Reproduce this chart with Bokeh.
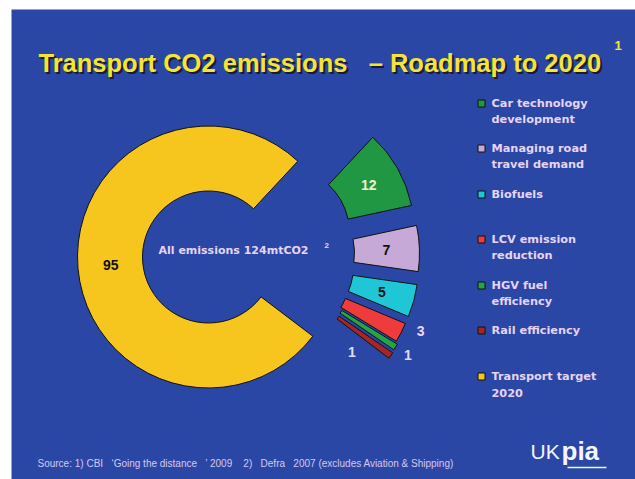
import math
from bokeh.plotting import figure
from bokeh.models import Range1d
from bokeh.embed import file_html
from bokeh.resources import INLINE
from bokeh.core.properties import value

# ---------------- data ----------------
categories = ["Car technology development", "Managing road travel demand", "Biofuels",
              "LCV emission reduction", "HGV fuel efficiency", "Rail efficiency",
              "Transport target 2020"]
legend_lines = [["Car technology", "development"], ["Managing road", "travel demand"],
                ["Biofuels"], ["LCV emission", "reduction"], ["HGV fuel", "efficiency"],
                ["Rail efficiency"], ["Transport target", "2020"]]
values = [12, 7, 5, 3, 1, 1, 95]
total_label = "All emissions 124mtCO2"

# ---------------- style ----------------
BG = "#2a47a6"
colors = ["#1f9743", "#c6a9d6", "#1fc6d6", "#ef3b3b", "#22a548", "#a62626", "#f7c61e"]
label_colors = ["#f4f0c8", "#111111", "#111111", "#e8d8f4", "#e8d8f4", "#e8d8f4", "#111111"]
# label placement: angle shift deg, radius
label_shift = [0, 0, 0, 4, -16, 4, 0]
label_radius = [98, 98, 98, 148, 101, 145, 98]
# explode offsets (px right, px down)
explode = [(75, -24), (80, -4), (79, 9), (76, 16), (77, 19), (76, 22), (0, 0)]
TXT = "#e6d4f2"
NB = "\u00a0"

W, H = 635, 479


def Y(yr):
    return 479 - yr


p = figure(width=W, height=H, x_range=Range1d(11, 635), y_range=Range1d(0, 470),
           output_backend="svg", toolbar_location=None,
           min_border_left=11, min_border_top=9, min_border_right=0, min_border_bottom=0,
           x_axis_location=None, y_axis_location=None)
p.grid.visible = False
p.outline_line_color = None
p.background_fill_color = BG
p.border_fill_color = "white"

CX, CY = 208, Y(256.5)
R_IN, R_OUT = 66, 131
start = math.radians(47)
total = sum(values)

a = start
for i, v in enumerate(values):
    span = v / total * 2 * math.pi
    s, e = a - span, a
    cx = CX + explode[i][0]
    cy = CY - explode[i][1]
    p.annular_wedge(x=cx, y=cy, inner_radius=R_IN, outer_radius=R_OUT,
                    start_angle=s, end_angle=e, direction="anticlock",
                    fill_color=colors[i], line_color="#111111", line_width=1)
    mid = (s + e) / 2 + math.radians(label_shift[i])
    lx = cx + label_radius[i] * math.cos(mid)
    ly = cy + label_radius[i] * math.sin(mid)
    p.text(x=[lx], y=[ly], text=[str(v)], text_align="center", text_baseline="middle",
           text_color=label_colors[i], text_font=value("Liberation Sans"),
           text_font_size="14px", text_font_style="bold")
    a = s

# centre text
p.text(x=[158], y=[Y(250)], text=[total_label], text_align="left", text_baseline="middle",
       text_color=TXT, text_font=value("DejaVu Sans"), text_font_size="11px",
       text_font_style="bold")
p.text(x=[324], y=[Y(245)], text=["2"], text_align="left", text_baseline="middle",
       text_color=TXT, text_font=value("Liberation Sans"), text_font_size="8px",
       text_font_style="bold")

# title with shadow
title = "Transport CO2 emissions" + NB * 3 + "\u2013 Roadmap to 2020"
p.text(x=[40], y=[Y(64)], text=[title], text_align="left", text_baseline="alphabetic",
       text_color="#1a1a30", text_font=value("Liberation Sans"), text_font_size="25.5px",
       text_font_style="bold")
p.text(x=[38], y=[Y(62)], text=[title], text_align="left", text_baseline="alphabetic",
       text_color="#f4e436", text_font=value("Liberation Sans"), text_font_size="25.5px",
       text_font_style="bold")
p.text(x=[614], y=[Y(45)], text=["1"], text_align="left", text_baseline="middle",
       text_color="#f4e436", text_font=value("Liberation Sans"), text_font_size="13px",
       text_font_style="bold")

# legend
leg_y = [103, 148, 194, 239, 285, 330, 376]
for i, lines in enumerate(legend_lines):
    p.scatter(x=[481], y=[Y(leg_y[i])], marker="square", size=7,
              fill_color=colors[i], line_color="#111111", line_width=1)
    for j, ln in enumerate(lines):
        p.text(x=[491], y=[Y(leg_y[i] + 16 * j)], text=[ln], text_align="left",
               text_baseline="middle", text_color=TXT, text_font=value("DejaVu Sans"),
               text_font_size="11.3px", text_font_style="bold")

# footer
src = ("Source: 1) CBI" + NB * 3 + "\u2018Going the distance" + NB * 3 + "\u2019 2009" + NB * 4
       + "2)" + NB * 3 + "Defra" + NB * 3 + "2007 (excludes Aviation & Shipping)")
p.text(x=[37], y=[Y(463)], text=[src], text_align="left", text_baseline="middle",
       text_color="#d6c8ee", text_font=value("Liberation Sans"), text_font_size="10px")

# UKpia logo
p.text(x=[530], y=[Y(451)], text=["UK"], text_align="left", text_baseline="middle",
       text_color="#f4f4fa", text_font=value("Liberation Sans"), text_font_size="21px")
p.text(x=[561], y=[Y(450)], text=["pia"], text_align="left", text_baseline="middle",
       text_color="#f4f4fa", text_font=value("Liberation Sans"), text_font_size="26px",
       text_font_style="bold")
p.segment(x0=[567], y0=[Y(467)], x1=[606], y1=[Y(467)], line_color="#f4f4fa", line_width=1.5)

open("out.html", "w").write(file_html(p, INLINE))
